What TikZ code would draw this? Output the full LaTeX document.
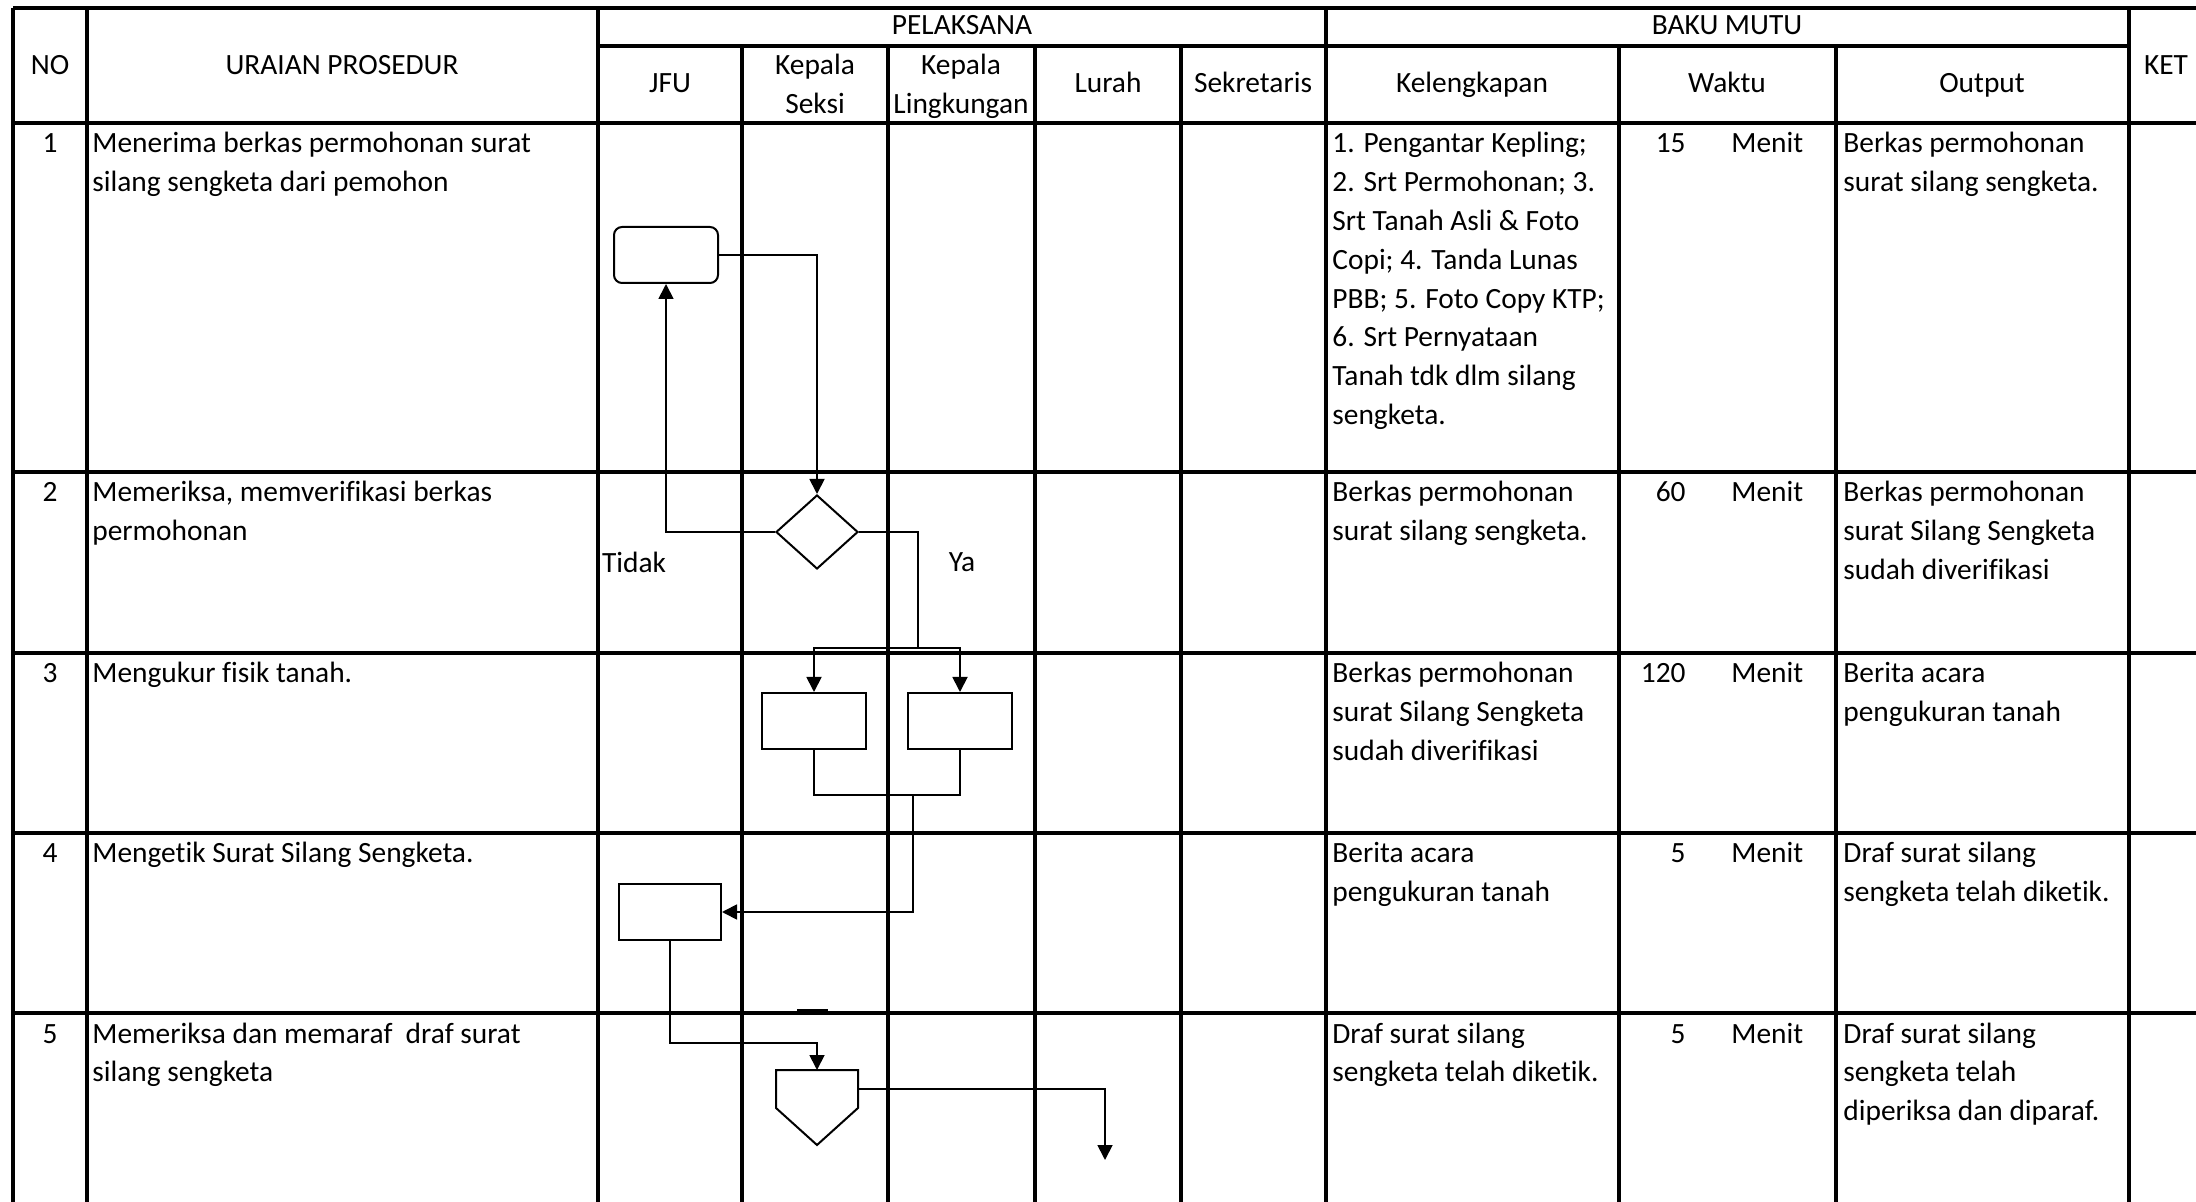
\documentclass[tikz,border=0pt]{standalone}
\usepackage{fontspec}
\setmainfont{Carlito}[Ligatures=NoCommon]
\usetikzlibrary{positioning,arrows.meta,shapes.geometric,calc}

% sel teks rata kiri, garis dasar pada baris pertama
\newcommand{\sel}[1]{\begin{tabular}[t]{@{}l@{}}#1\end{tabular}}

\tikzset{
  garis/.style={line width=1.6pt},
  proses/.style={draw,line width=1pt,minimum width=52pt,minimum height=28pt,inner sep=0pt},
  mulai/.style={proses,rounded corners=4pt},
  keputusan/.style={draw,diamond,line width=1pt,minimum width=41pt,minimum height=37pt,inner sep=0pt},
  alur/.style={line width=0.9pt,-{Triangle[length=7.5pt,width=7.5pt]}},
  sambung/.style={line width=0.9pt},
  isi/.style={anchor=base west,inner sep=0pt},
  judul/.style={anchor=base,inner sep=0pt},
}

\begin{document}
\begin{tikzpicture}[x=0.5pt,y=0.5pt,yscale=-1,every node/.style={font=\fontsize{14.7}{19.4}\selectfont}]
\useasboundingbox (0,0) rectangle (2196,1202);
\clip (0,0) rectangle (2196,1202);

% garis tabel
\draw[garis] (13,8) -- (2196,8);
\draw[garis] (598,46) -- (2129,46);
\foreach \y in {123,472,653,833,1013} \draw[garis] (13,\y) -- (2196,\y);
\foreach \x in {13,87,598,1326,2129} \draw[garis] (\x,8) -- (\x,1202);
\foreach \x in {742,888,1035,1181,1619,1836} \draw[garis] (\x,46) -- (\x,1202);
\draw[line width=2.2pt] (797,1011) -- (828,1011);

% kepala tabel
\node[judul] (no) at (50,75) {NO};
\node[judul] (uraian) at (342,75) {URAIAN PROSEDUR};
\node[judul] (pelaksana) at (962,35) {PELAKSANA};
\node[judul] (bakumutu) at (1727,35) {BAKU MUTU};
\node[judul] (ket) at (2166,75) {KET};
\node[judul] (jfu) at (670,93) {JFU};
\node[judul] (kasi) at (815,75) {\sel{\hfil Kepala\hfil\\\hfil Seksi\hfil}};
\node[judul] (kaling) at (961,75) {\sel{\hfil Kepala\hfil\\Lingkungan}};
\node[judul] (lurah) at (1108,93) {Lurah};
\node[judul] (sekretaris) at (1253,93) {Sekretaris};
\node[judul] (kelengkapan) at (1472,93) {Kelengkapan};
\node[judul] (waktu) at (1727,93) {Waktu};
\node[judul] (output) at (1982,93) {Output};

% nomor
\foreach \n/\y in {1/153,2/502,3/683,4/863,5/1043}
  \node[anchor=base,inner sep=0pt] (no\n) at (50,\y) {\n};

% uraian prosedur
\node[isi] (uraian1) at (92,153) {\sel{Menerima berkas permohonan surat\\silang sengketa dari pemohon}};
\node[isi] (uraian2) at (92,502) {\sel{Memeriksa, memverifikasi berkas\\permohonan}};
\node[isi] (uraian3) at (92,683) {Mengukur fisik tanah.};
\node[isi] (uraian4) at (92,863) {Mengetik Surat Silang Sengketa.};
\node[isi] (uraian5) at (92,1043) {\sel{Memeriksa dan memaraf\ \ draf surat\\silang sengketa}};

% kelengkapan
\node[isi] (lengkap1) at (1332,153) {\sel{1. Pengantar Kepling;\\2. Srt Permohonan; 3.\\Srt Tanah Asli \& Foto\\Copi; 4. Tanda Lunas\\PBB; 5. Foto Copy KTP;\\6. Srt Pernyataan\\Tanah tdk dlm silang\\sengketa.}};
\node[isi] (lengkap2) at (1332,502) {\sel{Berkas permohonan\\surat silang sengketa.}};
\node[isi] (lengkap3) at (1332,683) {\sel{Berkas permohonan\\surat Silang Sengketa\\sudah diverifikasi}};
\node[isi] (lengkap4) at (1332,863) {\sel{Berita acara\\pengukuran tanah}};
\node[isi] (lengkap5) at (1332,1043) {\sel{Draf surat silang\\sengketa telah diketik.}};

% waktu
\foreach \n/\t/\y in {1/15/153,2/60/502,3/120/683,4/5/863,5/5/1043}{
  \node[anchor=base east,inner sep=0pt] (lama\n) at (1686,\y) {\t};
  \node[anchor=base west,inner sep=0pt] (menit\n) at (1731,\y) {Menit};
}

% output
\node[isi] (hasil1) at (1843,153) {\sel{Berkas permohonan\\surat silang sengketa.}};
\node[isi] (hasil2) at (1843,502) {\sel{Berkas permohonan\\surat Silang Sengketa\\sudah diverifikasi}};
\node[isi] (hasil3) at (1843,683) {\sel{Berita acara\\pengukuran tanah}};
\node[isi] (hasil4) at (1843,863) {\sel{Draf surat silang\\sengketa telah diketik.}};
\node[isi] (hasil5) at (1843,1043) {\sel{Draf surat silang\\sengketa telah\\diperiksa dan diparaf.}};

% bagan alir
\node[mulai] (terima) at (666,255) {};
\node[keputusan] (periksa) at (817,532) {};
\node[proses] (ukur1) at (814,721) {};
\node[proses] (ukur2) at (960,721) {};
\node[proses,minimum width=51pt] (ketik) at (670,912) {};
\draw[line width=1pt] (776,1070) -- (858,1070) -- (858,1108) -- (817,1145) -- (776,1108) -- cycle;
\coordinate (paraf) at (817,1070);
\coordinate (paraf keluar) at (858,1089);
\coordinate (cabang) at (918,648);
\coordinate (gabung) at (913,795);
\coordinate (lanjut) at (1105,1160);

\node (tidak) at (634,562) {Tidak};
\node (ya) at (962,562) {Ya};

\draw[alur] (terima.east) -| (periksa.north);
\draw[alur] (periksa.west) -| (terima.south);
\draw[sambung] (periksa.east) -| (cabang);
\draw[alur] (cabang) -| (ukur1.north);
\draw[alur] (cabang) -| (ukur2.north);
\draw[sambung] (ukur1.south) |- (gabung) -| (ukur2.south);
\draw[alur] (gabung) |- (ketik.east);
\draw[alur] (ketik.south) -- ++(0,102) -| (paraf);
\draw[alur] (paraf keluar) -| (lanjut);

\end{tikzpicture}
\end{document}
